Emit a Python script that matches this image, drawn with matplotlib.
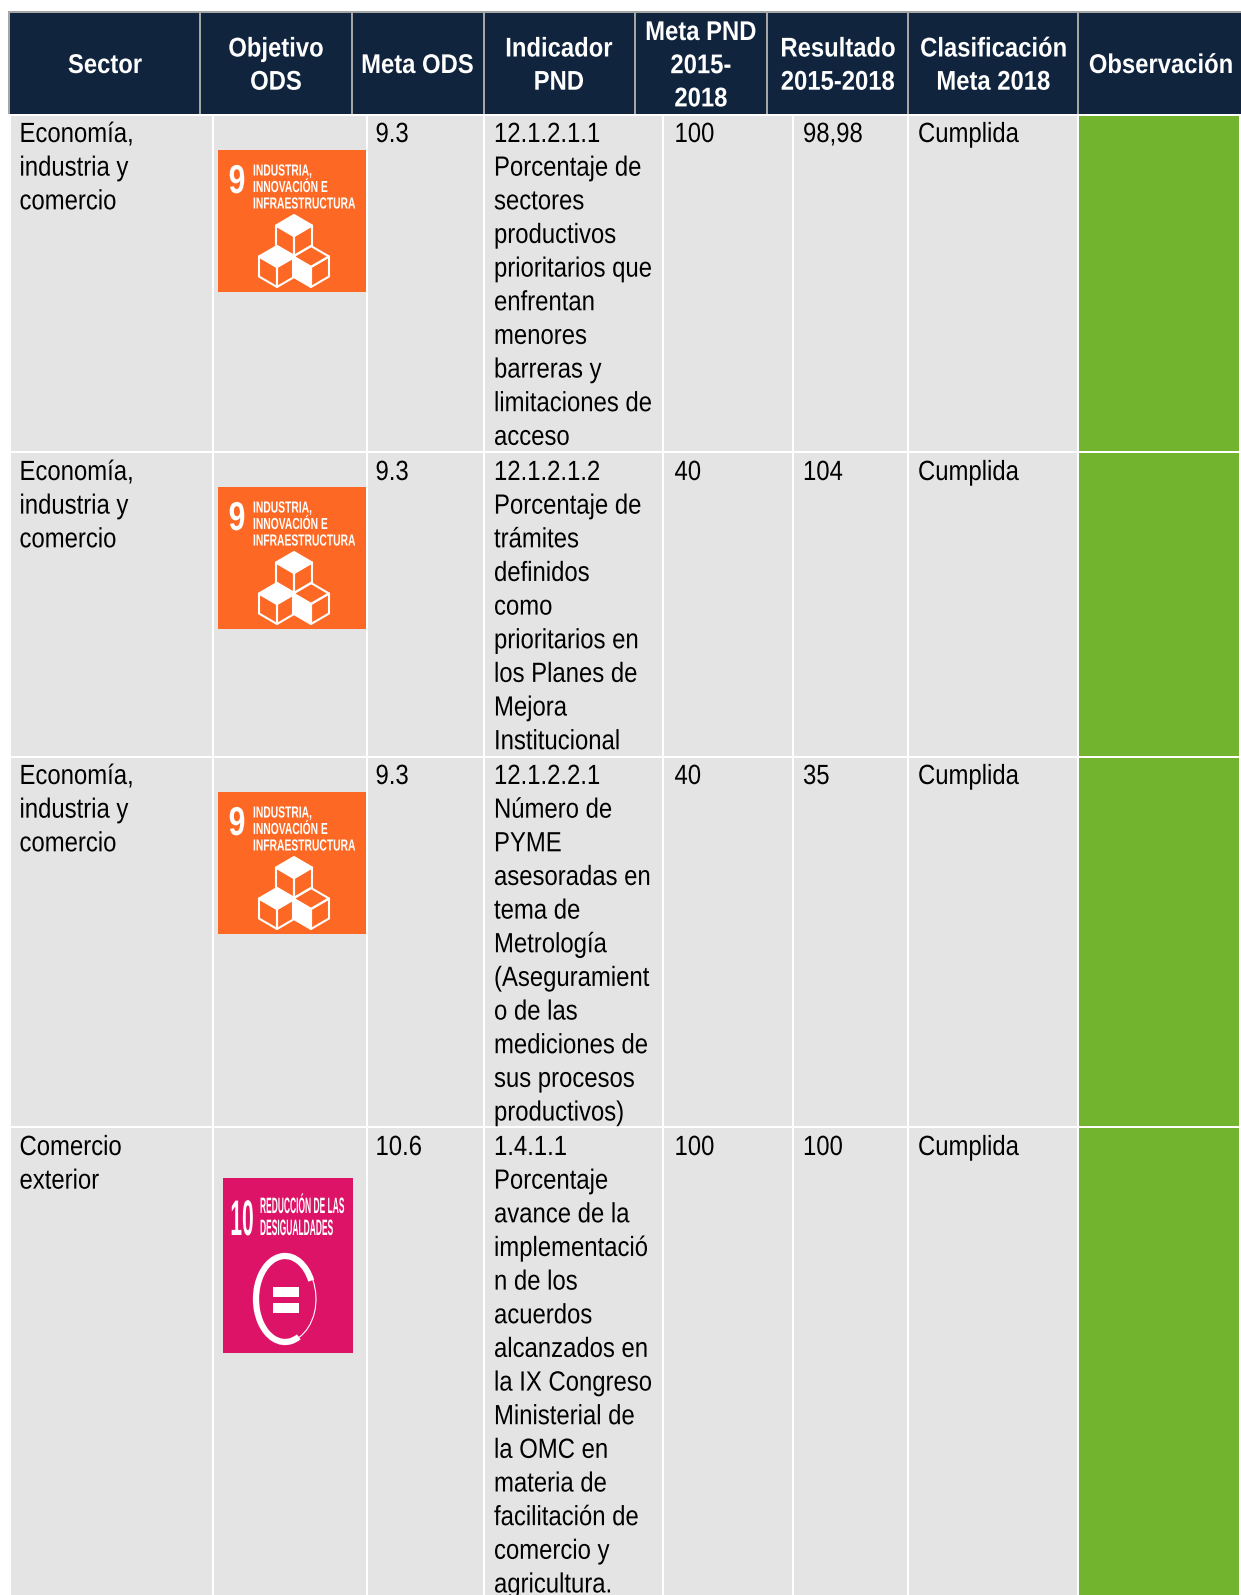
import matplotlib
matplotlib.use('Agg')
import matplotlib.pyplot as plt
from matplotlib.patches import Rectangle, Polygon, Arc
from matplotlib.patheffects import AbstractPathEffect
from matplotlib.transforms import Affine2D

# Datos de la tabla
headers = [["Sector"], ["Objetivo", "ODS"], ["Meta ODS"], ["Indicador", "PND"],
           ["Meta PND", "2015-", "2018"], ["Resultado", "2015-2018"],
           ["Clasificación", "Meta 2018"], ["Observación"]]
sectors = [["Economía,", "industria y", "comercio"],
           ["Economía,", "industria y", "comercio"],
           ["Economía,", "industria y", "comercio"],
           ["Comercio", "exterior"]]
meta_ods = ["9.3", "9.3", "9.3", "10.6"]
indicators = [
    ["12.1.2.1.1", "Porcentaje de", "sectores", "productivos", "prioritarios que", "enfrentan",
     "menores", "barreras y", "limitaciones de", "acceso"],
    ["12.1.2.1.2", "Porcentaje de", "trámites", "definidos", "como", "prioritarios en",
     "los Planes de", "Mejora", "Institucional"],
    ["12.1.2.2.1", "Número de", "PYME", "asesoradas en", "tema de", "Metrología", "(Aseguramient",
     "o de las", "mediciones de", "sus procesos", "productivos)"],
    ["1.4.1.1", "Porcentaje", "avance de la", "implementació", "n de los", "acuerdos", "alcanzados en",
     "la IX Congreso", "Ministerial de", "la OMC en", "materia de", "facilitación de", "comercio y",
     "agricultura."],
]
meta_pnd = ["100", "40", "40", "100"]
results = ["98,98", "104", "35", "100"]
status = ["Cumplida", "Cumplida", "Cumplida", "Cumplida"]

NAVY = '#10243e'
GRAY = '#e4e4e4'
GREEN = '#72b42e'
ORANGE = '#fd6925'
PINK = '#dd1367'
BORDER = '#a6a6a6'
FONT = ['Liberation Sans', 'DejaVu Sans']

header_edges = [9, 200, 352, 484, 635, 767, 908, 1078, 1245]
body_edges = [10, 213, 367, 484, 663, 793, 908, 1078, 1240]
row_edges = [115, 452, 757, 1127, 1600]
text_x = [19.5, 375.5, 494, 674.5, 803, 918]
header_cx = [105, 276, 417.5, 559, 701, 838, 993.5, 1161]
LINE = 33.65
BODY_SIZE = 20
HEADER_SIZE = 19.5


class Squeeze(AbstractPathEffect):
    """Estrecha el texto en horizontal alrededor de x0 (la letra original es Arial Narrow)."""

    def __init__(self, sx, x0):
        super().__init__()
        self.sx = sx
        self.x0 = x0

    def draw_path(self, renderer, gc, tpath, affine, rgb_face=None):
        squeeze = Affine2D().translate(-self.x0, 0).scale(self.sx, 1).translate(self.x0, 0)
        renderer.draw_path(gc, tpath, affine + squeeze, rgb_face)


def put_text(ax, x, y, s, size, sx, ha='left', weight='normal', color='black'):
    # la figura va a 1 px por unidad, asi que x en datos = x en pixeles
    ax.text(x, y, s, color=color, ha=ha, va='baseline', fontsize=size, fontweight=weight,
            family=FONT, path_effects=[Squeeze(sx, x)])


def draw_header(ax):
    ax.add_patch(Rectangle((8, 11), 1240, 103, fc=BORDER, ec='none'))
    for i, lines in enumerate(headers):
        x0, x1 = header_edges[i], header_edges[i + 1]
        ax.add_patch(Rectangle((x0 + 1, 13), x1 - x0 - 2, 101, fc=NAVY, ec='none'))
        first = 73 - (len(lines) - 1) * 16.5
        for j, line in enumerate(lines):
            put_text(ax, header_cx[i], first + j * 33.2, line, HEADER_SIZE, 0.88, ha='center',
                     weight='bold', color='white')


def draw_column(ax, x, y, lines):
    for j, line in enumerate(lines):
        put_text(ax, x, y + j * LINE, line, BODY_SIZE, 0.86)


def draw_cube(ax, cx, cy, filled):
    # cx, cy: centro del cubo, filled: cara rellena de blanco
    w, q, h = 18, 10.5, 20
    top = [(cx, cy - 2 * q), (cx + w, cy - q), (cx, cy), (cx - w, cy - q)]
    left = [(cx - w, cy - q), (cx, cy), (cx, cy + h), (cx - w, cy + h - q)]
    right = [(cx + w, cy - q), (cx, cy), (cx, cy + h), (cx + w, cy + h - q)]
    faces = {'top': top, 'left': left, 'right': right}
    for name, pts in faces.items():
        ax.add_patch(Polygon(pts, closed=True, fc='white' if name == filled else 'none',
                             ec='white', lw=1.5, joinstyle='round'))


def draw_icon_9(ax, y0):
    x0 = 218
    ax.add_patch(Rectangle((x0, y0), 148, 141.5, fc=ORANGE, ec='none'))
    put_text(ax, x0 + 19, y0 + 43, "9", 29, 0.75, ha='center', weight='bold', color='white')
    for j, line in enumerate(["INDUSTRIA,", "INNOVACIÓN E", "INFRAESTRUCTURA"]):
        put_text(ax, x0 + 35, y0 + 25.5 + j * 16.5, line, 11.5, 0.645, weight='bold', color='white')
    draw_cube(ax, x0 + 76, y0 + 86, 'top')
    draw_cube(ax, x0 + 59, y0 + 117, 'top')
    draw_cube(ax, x0 + 93, y0 + 117, 'left')


def draw_icon_10(ax):
    x0, y0 = 223, 1178
    ax.add_patch(Rectangle((x0, y0), 130, 175, fc=PINK, ec='none'))
    put_text(ax, x0 + 19, y0 + 57, "10", 36, 0.42, ha='center', weight='bold', color='white')
    for j, line in enumerate(["REDUCCIÓN DE LAS", "DESIGUALDADES"]):
        put_text(ax, x0 + 37, y0 + 35 + j * 22, line, 16, 0.38, weight='bold', color='white')
    cx, cy = 285, 1299
    ax.add_patch(Arc((cx, cy), 58, 86, theta1=70, theta2=325, color='white', lw=4.5))
    ax.add_patch(Arc((cx, cy), 62, 86, theta1=-35, theta2=70, color='white', lw=0.8))
    ax.add_patch(Rectangle((273, 1287), 26, 10, fc='white', ec='none'))
    ax.add_patch(Rectangle((273, 1303), 26, 10, fc='white', ec='none'))


def main():
    fig = plt.figure(figsize=(12.41, 15.95), dpi=100)
    ax = fig.add_axes([0, 0, 1, 1])
    ax.set_xlim(0, 1241)
    ax.set_ylim(1595, 0)
    ax.axis('off')

    draw_header(ax)

    for r in range(len(sectors)):
        y0, y1 = row_edges[r], row_edges[r + 1]
        for c in range(len(body_edges) - 1):
            x0, x1 = body_edges[c], body_edges[c + 1]
            color = GREEN if c == len(body_edges) - 2 else GRAY
            ax.add_patch(Rectangle((x0 + 1, y0 + 1), x1 - x0 - 2, y1 - y0 - 2, fc=color, ec='none'))

    baselines = [142, 480, 784, 1155]
    for r, y in enumerate(baselines):
        draw_column(ax, text_x[0], y, sectors[r])
        draw_column(ax, text_x[1], y, [meta_ods[r]])
        draw_column(ax, text_x[2], y, indicators[r])
        draw_column(ax, text_x[3], y, [meta_pnd[r]])
        draw_column(ax, text_x[4], y, [results[r]])
        draw_column(ax, text_x[5], y, [status[r]])

    for y0 in [150, 487, 792]:
        draw_icon_9(ax, y0)
    draw_icon_10(ax)

    fig.savefig('out.png', dpi=100, facecolor='white')
    plt.close(fig)


if __name__ == "__main__":
    main()
